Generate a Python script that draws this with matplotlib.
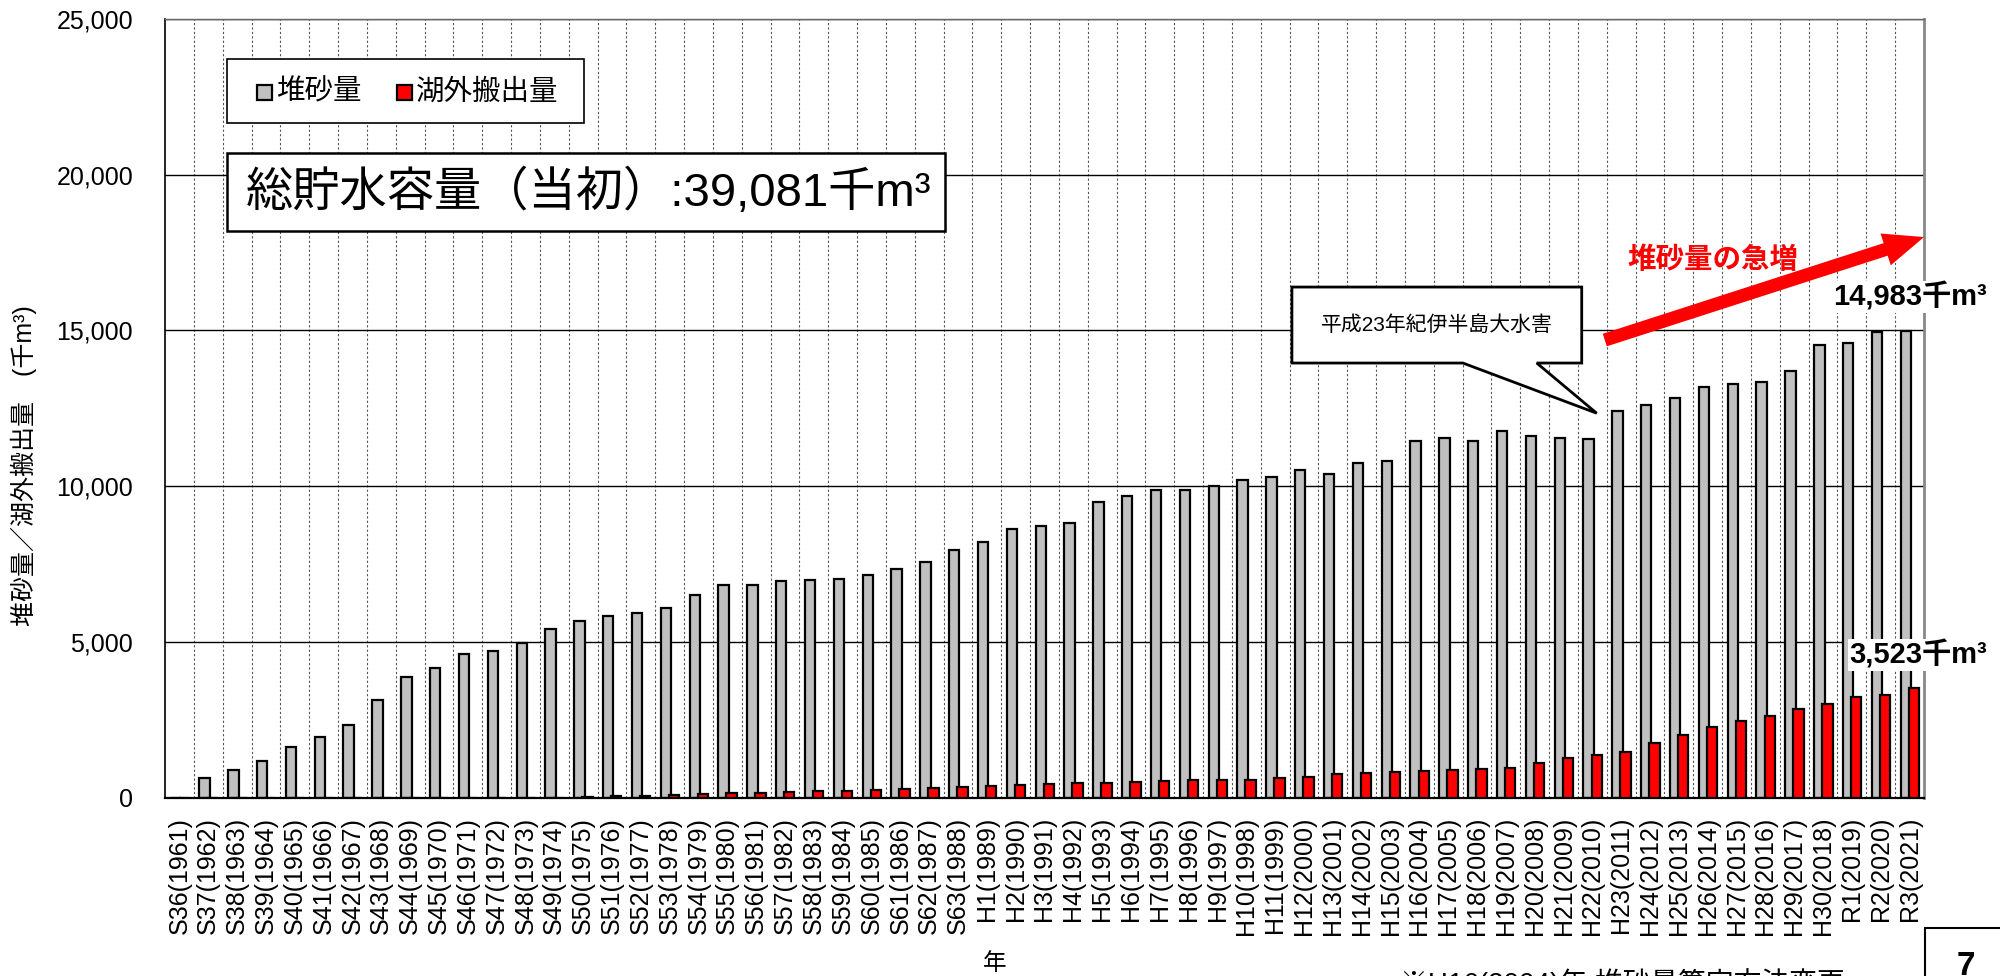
import numpy as np
import matplotlib
matplotlib.use('Agg')
import matplotlib.pyplot as plt
from matplotlib.patches import Rectangle, Polygon
from matplotlib.ticker import FuncFormatter

plt.rcParams['font.family'] = ['Liberation Sans', 'Noto Sans CJK JP']

# 年度ラベル
nendo = ["S36(1961)", "S37(1962)", "S38(1963)", "S39(1964)", "S40(1965)", "S41(1966)",
         "S42(1967)", "S43(1968)", "S44(1969)", "S45(1970)", "S46(1971)", "S47(1972)",
         "S48(1973)", "S49(1974)", "S50(1975)", "S51(1976)", "S52(1977)", "S53(1978)",
         "S54(1979)", "S55(1980)", "S56(1981)", "S57(1982)", "S58(1983)", "S59(1984)",
         "S60(1985)", "S61(1986)", "S62(1987)", "S63(1988)", "H1(1989)", "H2(1990)",
         "H3(1991)", "H4(1992)", "H5(1993)", "H6(1994)", "H7(1995)", "H8(1996)",
         "H9(1997)", "H10(1998)", "H11(1999)", "H12(2000)", "H13(2001)", "H14(2002)",
         "H15(2003)", "H16(2004)", "H17(2005)", "H18(2006)", "H19(2007)", "H20(2008)",
         "H21(2009)", "H22(2010)", "H23(2011)", "H24(2012)", "H25(2013)", "H26(2014)",
         "H27(2015)", "H28(2016)", "H29(2017)", "H30(2018)", "R1(2019)", "R2(2020)",
         "R3(2021)"]

# 堆砂量 (千m3)
taisha = [0, 636, 873, 1162, 1620, 1943, 2339, 3141, 3869, 4169,
          4608, 4704, 4950, 5410, 5657, 5837, 5914, 6085, 6513, 6824,
          6824, 6962, 6984, 7027, 7156, 7349, 7563, 7937, 8214, 8625,
          8728, 8814, 9479, 9693, 9865, 9886, 10000, 10195, 10295, 10505,
          10388, 10751, 10815, 11457, 11543, 11436, 11778, 11608, 11533, 11522,
          12420, 12613, 12828, 13181, 13277, 13330, 13704, 14520, 14604, 14940,
          14983]

# 湖外搬出量 (千m3)
hanshutsu = [0, 0, 0, 0, 0, 0, 0, 0, 0, 0,
             0, 0, 0, 0, 20, 35, 58, 80, 105, 134,
             160, 180, 195, 215, 241, 273, 294, 326, 380, 412,
             433, 466, 476, 508, 530, 551, 572, 575, 615, 669,
             754, 782, 814, 840, 872, 926, 958, 1118, 1268, 1375,
             1472, 1740, 2017, 2253, 2456, 2627, 2841, 3013, 3227, 3302,
             3523]

GRIS = '#c0c0c0'
ROJO = '#ff0000'
W, H = 2000, 976


def fx(px):
    return px / W


def fy(py):
    return 1 - py / H


fig = plt.figure(figsize=(20, 9.76), dpi=100)
ax = fig.add_axes([fx(165), fy(797.5), (1924 - 165) / W, (797.5 - 19) / H])

x = np.arange(len(nendo))
b1 = ax.bar(x - 0.13, taisha, width=0.36, color=GRIS, edgecolor='black', linewidth=1.6, zorder=2)
b2 = ax.bar(x + 0.15, hanshutsu, width=0.36, color=ROJO, edgecolor='black', linewidth=1.6, zorder=3)

ax.set_xlim(-0.5, len(nendo) - 0.5)
ax.set_ylim(0, 25000)
ax.set_yticks(range(0, 25001, 5000))
ax.yaxis.set_major_formatter(FuncFormatter(lambda v, p: f"{int(v):,}"))
ax.set_xticks(x)
ax.set_xticklabels(nendo, rotation=90)
ax.set_xticks(np.arange(0.5, len(nendo) - 1, 1), minor=True)
ax.tick_params(axis='x', which='both', length=0, pad=14, labelsize=18)
ax.tick_params(axis='y', length=0, pad=23, labelsize=18)
ax.grid(axis='y', which='major', color='black', linewidth=1, zorder=0)
ax.grid(axis='x', which='minor', color='#555555', linewidth=0.8, linestyle=(0, (2, 2)), zorder=0)
ax.set_axisbelow(True)

ax.spines['left'].set_linewidth(1.2)
ax.spines['bottom'].set_linewidth(1.6)
ax.spines['top'].set_color('#666666')
ax.spines['top'].set_linewidth(1)
ax.spines['right'].set_color('#888888')
ax.spines['right'].set_linewidth(2)

# 凡例（手描き）
fig.add_artist(Rectangle((fx(227), fy(123)), (584 - 227) / W, 64 / H, transform=fig.transFigure,
                         fc='white', ec='black', lw=1.2, zorder=4))
fig.add_artist(Rectangle((fx(257), fy(100)), 15 / W, 15 / H, transform=fig.transFigure,
                         fc=GRIS, ec='black', lw=1.6, zorder=5))
fig.text(fx(276), fy(92), '堆砂量', fontsize=20.5, va='center', ha='left', zorder=5)
fig.add_artist(Rectangle((fx(397), fy(100)), 15 / W, 15 / H, transform=fig.transFigure,
                         fc=ROJO, ec='black', lw=1.6, zorder=5))
fig.text(fx(416), fy(92), '湖外搬出量', fontsize=20.5, va='center', ha='left', zorder=5)

# 総貯水容量
fig.add_artist(Rectangle((fx(227), fy(231)), (945 - 227) / W, 78 / H, transform=fig.transFigure,
                         fc='white', ec='black', lw=1.8, zorder=4))
fig.text(fx(246), fy(193), '総貯水容量（当初）:39,081千m³', fontsize=34, va='center', ha='left', zorder=5)

# 吹き出し
i23 = nendo.index("H23(2011)")
burbuja = [(38.58, 16392), (48.63, 16392), (48.63, 13952), (47.07, 13952),
           (i23 - 0.85, taisha[i23] - 80), (44.51, 13952), (38.58, 13952)]
ax.add_patch(Polygon(burbuja, closed=True, fc='white', ec='black', lw=2, zorder=5, clip_on=False))
ax.text(43.6, 15172, '平成23年紀伊半島大水害', fontsize=15, ha='center', va='center', zorder=6)

# 矢印
ax.annotate('', xy=(60.5, 17998), xytext=(49.43, 14690), annotation_clip=False, zorder=6,
            arrowprops=dict(arrowstyle='simple,head_length=2.9,head_width=2.4,tail_width=0.95',
                            mutation_scale=10, fc=ROJO, ec='none', shrinkA=0, shrinkB=0))
fig.text(fx(1713), fy(260), '堆砂量の急増', fontsize=20.5, fontweight='bold', color=ROJO,
         ha='center', va='center', zorder=7)

fig.text(fx(1833), fy(297), f'{taisha[-1]:,}千m³', fontsize=21, fontweight='bold', ha='left', va='center',
         bbox=dict(fc='white', ec='none', pad=1), zorder=7)
fig.text(fx(1849), fy(655), f'{hanshutsu[-1]:,}千m³', fontsize=21, fontweight='bold', ha='left', va='center',
         bbox=dict(fc='white', ec='none', pad=1), zorder=7)

# 軸ラベル
fig.text(fx(24), fy(466), '堆砂量／湖外搬出量　(千m³)', rotation=90, fontsize=18, ha='center', va='center')
fig.text(fx(995), fy(964), '年', fontsize=17, ha='center', va='center')

# 注記とページ番号
fig.text(fx(1400), fy(968), '※H16(2004)年 堆砂量算定方法変更', fontsize=20, ha='left', va='top')
fig.add_artist(Rectangle((fx(1925), fy(1000)), 100 / W, 72 / H, transform=fig.transFigure,
                         fc='white', ec='black', lw=1.5, zorder=4))
fig.text(fx(1966), fy(951), '7', fontsize=24, fontweight='bold', ha='center', va='top', zorder=5)

fig.savefig('out.png', dpi=100)
